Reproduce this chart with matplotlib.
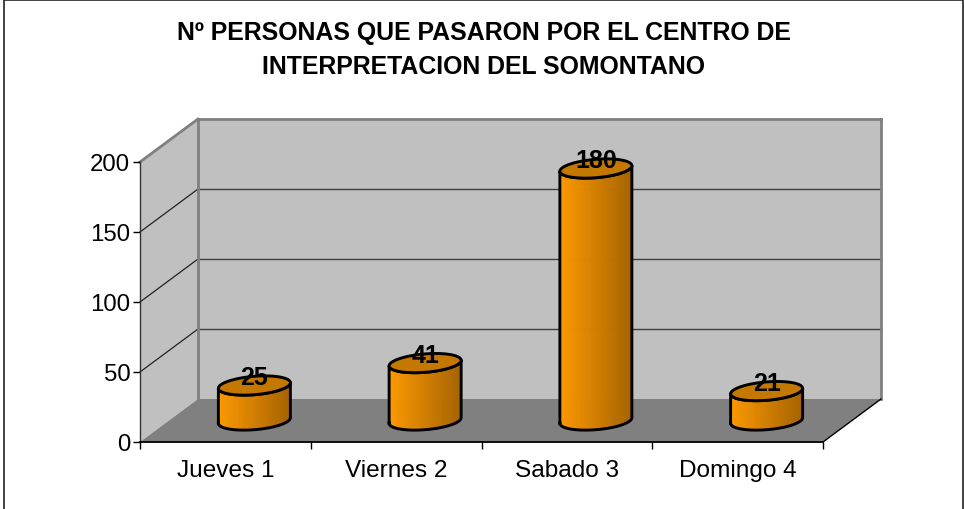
import numpy as np
import matplotlib
matplotlib.use('Agg')
import matplotlib.pyplot as plt
from matplotlib.patches import Polygon, Rectangle

plt.rcParams['font.family'] = ['Liberation Sans', 'DejaVu Sans']

categories = ['Jueves 1', 'Viernes 2', 'Sabado 3', 'Domingo 4']
values = [25, 41, 180, 21]
y_ticks = [0, 50, 100, 150, 200]
title = 'Nº PERSONAS QUE PASARON POR EL CENTRO DE\nINTERPRETACION DEL SOMONTANO'

W, H = 964, 510
DEPTH = (58, 43)  # depth of the 3d box, in pixels


def px(x, y):
    # pixel from top-left -> figure fraction
    return x / W, 1 - y / H


fig = plt.figure(figsize=(W / 100, H / 100), dpi=100)
# outer frame, the bottom edge runs off the picture
fig.patches.append(Rectangle(px(4, 520), 958.5 / W, 519 / H, transform=fig.transFigure,
                             fc='white', ec='#222222', lw=1.2, zorder=-1))

x0, y0 = px(140, 443)
x1, y1 = px(823, 163)
ax = fig.add_axes([x0, y0, x1 - x0, y1 - y0])
ax.set_xlim(0, len(categories))
ax.set_ylim(0, 200)
ax.patch.set_visible(False)
for s in ['top', 'right']:
    ax.spines[s].set_visible(False)
ax.spines['left'].set_color('#333333')
ax.spines['left'].set_linewidth(1.0)
ax.spines['bottom'].set_color('black')
ax.spines['bottom'].set_linewidth(1.3)

ax.set_yticks(y_ticks)
ax.set_xticks(range(len(categories) + 1))
ax.set_xticklabels([])
ax.set_xticks(np.arange(len(categories)) + 0.5, categories, minor=True)
ax.tick_params(axis='x', which='minor', length=0, labelsize=17.6, pad=12)
ax.tick_params(axis='x', which='major', length=5, width=1)
ax.tick_params(axis='y', labelsize=17.3, length=5, width=1, pad=2)

fig.canvas.draw()
to_disp = ax.transData.transform


def box_pts(x, y, dx=0, dy=0):
    p = to_disp((x, y))
    return (p[0] + dx, p[1] + dy)


dx, dy = DEPTH
n = len(categories)
no_tf = matplotlib.transforms.IdentityTransform()

# walls and floor
ax.add_patch(Polygon([box_pts(0, 0), box_pts(0, 0, dx, dy), box_pts(0, 200, dx, dy), box_pts(0, 200)],
                     transform=no_tf, fc='#C0C0C0', ec='none', clip_on=False, zorder=0))
ax.add_patch(Polygon([box_pts(0, 0, dx, dy), box_pts(n, 0, dx, dy), box_pts(n, 200, dx, dy), box_pts(0, 200, dx, dy)],
                     transform=no_tf, fc='#C0C0C0', ec='none', clip_on=False, zorder=0))
ax.add_patch(Polygon([box_pts(0, 0), box_pts(n, 0), box_pts(n, 0, dx, dy), box_pts(0, 0, dx, dy)],
                     transform=no_tf, fc='#808080', ec='none', clip_on=False, zorder=0.5))


def seg(a, b, color, lw, z=1):
    ax.plot([a[0], b[0]], [a[1], b[1]], transform=no_tf, color=color, lw=lw,
            clip_on=False, zorder=z, solid_capstyle='projecting')


# gridlines on the walls
for v in y_ticks[1:-1]:
    seg(box_pts(0, v), box_pts(0, v, dx, dy), '#222222', 0.9)
    seg(box_pts(0, v, dx, dy), box_pts(n, v, dx, dy), '#404040', 1.0)
seg(box_pts(0, 200), box_pts(0, 200, dx, dy), '#808080', 2)
seg(box_pts(0, 200, dx, dy), box_pts(n, 200, dx, dy), '#808080', 2)
seg(box_pts(n, 200, dx, dy), box_pts(n, 0, dx, dy), '#808080', 2)
seg(box_pts(0, 200, dx, dy), box_pts(0, 0, dx, dy), '#808080', 2)
seg(box_pts(n, 0), box_pts(n, 0, dx, dy), 'black', 1, z=2)

# cylinders
RX, RY, SHEAR = 36, 9.2, 2.8
c_left = np.array(matplotlib.colors.to_rgb('#FF9A00'))
c_right = np.array(matplotlib.colors.to_rgb('#A66300'))


def ellipse(cx, cy, t):
    return cx + RX * np.cos(t), cy + RY * np.sin(t) + SHEAR * np.cos(t)


for i, v in enumerate(values):
    cx, cb = box_pts(i + 0.5, 0, dx / 2, dy / 2)
    _, ct = box_pts(i + 0.5, v, dx / 2, dy / 2)

    # body, built from thin vertical strips for the shading
    t = np.linspace(np.pi, 2 * np.pi, 61)
    xb, yb = ellipse(cx, cb, t)
    xt, yt = ellipse(cx, ct, t)
    for k in range(len(t) - 1):
        f = (xb[k] + xb[k + 1]) / 2
        f = (f - (cx - RX)) / (2 * RX)
        col = c_left + (c_right - c_left) * f
        ax.add_patch(Polygon([(xb[k], yb[k]), (xb[k + 1], yb[k + 1]), (xt[k + 1], yt[k + 1]), (xt[k], yt[k])],
                             transform=no_tf, fc=col, ec=col, lw=0.5, clip_on=False, zorder=3))
    outline_x = np.r_[xb, xt[::-1], xb[0]]
    outline_y = np.r_[yb, yt[::-1], yb[0]]
    ax.plot(outline_x, outline_y, transform=no_tf, color='black', lw=2.1, clip_on=False, zorder=4)

    # top cap
    tt = np.linspace(0, 2 * np.pi, 121)
    xc, yc = ellipse(cx, ct, tt)
    ax.add_patch(Polygon(np.c_[xc, yc], transform=no_tf, fc='#C47800', ec='black', lw=2.1,
                         clip_on=False, zorder=5))

    # value label sits on the cap
    ax.text(cx, ct + 8, str(v), transform=no_tf, ha='center', va='center', fontsize=18,
            fontweight='bold', color='black', zorder=6)

fig.text(484 / W, 1 - 50 / H, title, ha='center', va='center', fontsize=17.9, fontweight='bold',
         linespacing=1.55)

fig.savefig('out.png', dpi=100)
